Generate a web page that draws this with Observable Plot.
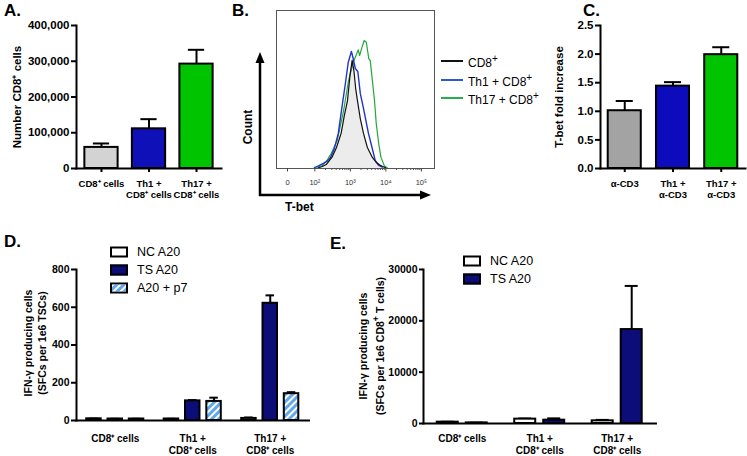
<!DOCTYPE html>
<html><head><meta charset="utf-8">
<script src="https://cdn.jsdelivr.net/npm/d3@7"></script>
<script src="https://cdn.jsdelivr.net/npm/@observablehq/plot@0.6"></script>
<style>
body{margin:0;background:#fff;}
#fig{position:relative;width:747px;height:456px;overflow:hidden;background:#fff;font-family:"Liberation Sans",Arial,Helvetica,sans-serif;color:#000;}
.letter{position:absolute;font-weight:bold;font-size:17px;line-height:17px;}
.leg{position:absolute;white-space:nowrap;line-height:1;transform:translateY(-50%);}
.sw{position:absolute;box-sizing:border-box;border:2px solid #000;width:18px;height:11px;transform:translateY(-50%);}
.ln{position:absolute;height:2px;width:22px;transform:translateY(-50%);}
.rot{position:absolute;font-weight:bold;font-size:12px;white-space:nowrap;text-align:center;transform:translate(-50%,-50%) rotate(-90deg);}
</style></head>
<body>
<svg width="0" height="0" style="position:absolute">
 <defs>
  <pattern id="hatch" patternUnits="userSpaceOnUse" width="5" height="5" patternTransform="rotate(45)">
   <rect width="5" height="5" fill="#62a8ec"/><rect width="2" height="5" fill="#ffffff"/>
  </pattern>
 </defs>
</svg>
<div id="fig"></div>
<script>
// ---------------- DATA ----------------
// Panel A
const aCategories = ["CD8⁺ cells", "Th1 +\nCD8⁺ cells", "Th17 +\nCD8⁺ cells"];
const aValues = [59000, 111000, 292000];
const aErrors = [11000, 27000, 40000];
const aTicks = [0, 100000, 200000, 300000, 400000];

// Panel B (histogram: x in log10 decades of T-bet, y in % of max count)
const bCd8X  = [2.10, 2.21, 2.32, 2.48, 2.61, 2.74, 2.83, 2.92, 2.99, 3.05, 3.10, 3.15, 3.20, 3.28, 3.37, 3.48, 3.62, 3.73, 3.85, 3.99];
const bCd8Y  = [0.5, 1.3, 2.5, 7.0, 13.3, 22.2, 33.5, 43.0, 58.9, 68.4, 62.0, 50.6, 43.0, 31.6, 22.2, 13.3, 7.0, 3.8, 1.9, 0.5];
const bTh1X  = [1.99, 2.10, 2.24, 2.35, 2.44, 2.55, 2.66, 2.79, 2.86, 2.94, 3.03, 3.08, 3.14, 3.21, 3.28, 3.37, 3.42, 3.51, 3.61, 3.70, 3.79, 3.90];
const bTh1Y  = [0.5, 1.6, 3.2, 4.7, 7.0, 12.7, 22.2, 43.0, 53.8, 67.1, 74.1, 69.6, 63.3, 61.4, 47.5, 38.0, 32.3, 22.2, 13.3, 5.1, 2.2, 0.9];
const bTh17X = [2.06, 2.21, 2.34, 2.46, 2.63, 2.81, 2.95, 3.08, 3.14, 3.22, 3.26, 3.33, 3.39, 3.45, 3.52, 3.56, 3.61, 3.68, 3.73, 3.80, 3.86, 3.96, 4.04];
const bTh17Y = [0.8, 1.9, 5.1, 9.5, 17.7, 36.7, 55.7, 67.3, 70.4, 75.1, 71.5, 76.8, 81.0, 79.9, 69.4, 68.4, 57.8, 43.0, 28.3, 15.6, 7.2, 1.5, 0.5];
const bTickPos = [1.23, 2, 3, 4, 5];
const bTickLabels = ["0", "10²", "10³", "10⁴", "10⁵"];
const bMinorMultipliers = [2, 3, 4, 5, 6, 7, 8, 9];
const bMinorDecades = [2, 3, 4];
const bLegend = ["CD8<sup>+</sup>", "Th1 + CD8<sup>+</sup>", "Th17 + CD8<sup>+</sup>"];

// Panel C
const cCategories = ["α-CD3", "Th1 +\nα-CD3", "Th17 +\nα-CD3"];
const cValues = [1.01, 1.44, 1.99];
const cErrors = [0.17, 0.07, 0.13];
const cTicks = [0, 0.5, 1.0, 1.5, 2.0, 2.5];

// Panel D
const dGroups = ["CD8⁺ cells", "Th1 +\nCD8⁺ cells", "Th17 +\nCD8⁺ cells"];
const dSeries = ["NC A20", "TS A20", "A20 + p7"];
const dNC = [9, 8, 11];      const dNCerr = [1, 1, 5];
const dTS = [8, 104, 621];   const dTSerr = [1, 4, 42];
const dP7 = [8, 101, 142];   const dP7err = [1, 20, 8];
const dTicks = [0, 200, 400, 600, 800];
const dYLabel = ["IFN-γ producing cells", "(SFCs per 1e6 TSCs)"];

// Panel E
const eGroups = ["CD8⁺ cells", "Th1 +\nCD8⁺ cells", "Th17 +\nCD8⁺ cells"];
const eSeries = ["NC A20", "TS A20"];
const eNC = [260, 850, 520];   const eNCerr = [80, 120, 180];
const eTS = [120, 650, 18300]; const eTSerr = [40, 350, 8500];
const eTicks = [0, 10000, 20000, 30000];
const eYLabel = ["IFN-γ producing cells", "(SFCs per 1e6 CD8<sup>+</sup> T cells)"];

// ---------------- HELPERS ----------------
const FONT = '"Liberation Sans", Arial, Helvetica, sans-serif';
const fig = document.getElementById("fig");
const baseStyle = {background: "none", overflow: "visible", fontFamily: FONT, fontWeight: "bold", fontSize: "11px", color: "#000"};
function place(el, left, top) {
  el.style.position = "absolute"; el.style.left = left + "px"; el.style.top = top + "px";
  el.style.maxWidth = "none";
  fig.appendChild(el);
}
function addDiv(cls, html, css) {
  const d = document.createElement("div"); d.className = cls; d.innerHTML = html;
  Object.assign(d.style, css); fig.appendChild(d); return d;
}

// ---------------- PANEL A ----------------
const aData = aCategories.map((c, i) => ({cat: c, value: aValues[i], err: aErrors[i]}));
place(Plot.plot({
  width: 240, height: 205, marginLeft: 76, marginRight: 19, marginTop: 25, marginBottom: 37,
  style: baseStyle,
  x: {domain: aCategories, padding: 0.3, paddingOuter: 0.176, align: 0.5, round: false},
  y: {domain: [0, 400000]},
  color: {domain: aCategories, range: ["#d3d3d3", "#1010b8", "#00c400"]},
  marks: [
    Plot.ruleX(aData, {x: "cat", y1: "value", y2: d => d.value + d.err, strokeWidth: 2}),
    Plot.tickY(aData, {x: "cat", y: d => d.value + d.err, strokeWidth: 2, insetLeft: 8.5, insetRight: 8.5}),
    Plot.barY(aData, {x: "cat", y: "value", fill: "cat", stroke: "black", strokeWidth: 2}),
    Plot.axisY({ticks: aTicks, tickFormat: d3.format(","), tickSize: 5, tickPadding: 2, strokeWidth: 2, fontSize: 11.5,
      label: "Number CD8⁺ cells", labelAnchor: "center", labelOffset: 64, labelArrow: "none"}),
    Plot.axisX({tickSize: 4, tickPadding: 6, strokeWidth: 2, fontSize: 9.5, lineHeight: 1.2, label: null}),
    Plot.frame({anchor: "left", strokeWidth: 2}),
    Plot.frame({anchor: "bottom", strokeWidth: 2})
  ]
}), 0, 0);

// ---------------- PANEL B ----------------
const bCd8 = bCd8X.map((x, i) => ({x, y: bCd8Y[i]}));
const bTh1 = bTh1X.map((x, i) => ({x, y: bTh1Y[i]}));
const bTh17 = bTh17X.map((x, i) => ({x, y: bTh17Y[i]}));
const bMinor = bMinorDecades.flatMap(k => bMinorMultipliers.map(m => k + Math.log10(m)));
place(Plot.plot({
  width: 170, height: 205, marginLeft: 6, marginRight: 6, marginTop: 10, marginBottom: 37,
  style: baseStyle,
  x: {domain: [0.92, 5.37]},
  y: {domain: [0, 100], axis: null},
  marks: [
    Plot.areaY(bCd8, {x: "x", y: "y", fill: "#ececec"}),
    Plot.lineY(bTh17, {x: "x", y: "y", stroke: "#1fa83a", strokeWidth: 1.2}),
    Plot.lineY(bTh1, {x: "x", y: "y", stroke: "#2233cc", strokeWidth: 1.4}),
    Plot.lineY(bCd8, {x: "x", y: "y", stroke: "#111", strokeWidth: 1.2}),
    Plot.frame({stroke: "#555", strokeWidth: 1}),
    Plot.axisX({ticks: bMinor, tickSize: 2, text: null, stroke: "#555", label: null}),
    Plot.axisX({ticks: bTickPos, tickFormat: d => bTickLabels[bTickPos.indexOf(d)], tickSize: 3.5, tickPadding: 7.5,
      fontSize: 7.5, fontWeight: "normal", stroke: "#444", fill: "#333", label: null})
  ]
}), 270, 0);

// axis arrows for B
const arrows = document.createElementNS("http://www.w3.org/2000/svg", "svg");
arrows.setAttribute("width", 747); arrows.setAttribute("height", 456);
arrows.style.position = "absolute"; arrows.style.left = "0"; arrows.style.top = "0"; arrows.style.pointerEvents = "none";
arrows.innerHTML = `
  <line x1="260" y1="196" x2="260" y2="62" stroke="#000" stroke-width="2.5"/>
  <polygon points="260,52 255.5,63 264.5,63" fill="#000"/>
  <line x1="259" y1="195" x2="421" y2="195" stroke="#000" stroke-width="2.5"/>
  <polygon points="431,195 420,190.5 420,199.5" fill="#000"/>`;
fig.appendChild(arrows);
addDiv("rot", "Count", {left: "248px", top: "127px"});
addDiv("leg", "T-bet", {left: "285px", top: "207px", fontWeight: "bold", fontSize: "12px"});
const bColors = ["#111", "#2a5bd7", "#27b04a"];
const bRows = [61, 80, 98];
bLegend.forEach((t, i) => {
  addDiv("ln", "", {left: "441px", top: bRows[i] + "px", background: bColors[i]});
  addDiv("leg", t, {left: "468px", top: bRows[i] + "px", fontSize: "12px"});
});

// ---------------- PANEL C ----------------
const cData = cCategories.map((c, i) => ({cat: c, value: cValues[i], err: cErrors[i]}));
place(Plot.plot({
  width: 267, height: 205, marginLeft: 120, marginRight: 2, marginTop: 25, marginBottom: 37,
  style: baseStyle,
  x: {domain: cCategories, padding: 0.315, paddingOuter: 0.16, align: 0.5, round: false},
  y: {domain: [0, 2.5]},
  color: {domain: cCategories, range: ["#a3a3a3", "#0c0cbc", "#00c400"]},
  marks: [
    Plot.ruleX(cData, {x: "cat", y1: "value", y2: d => d.value + d.err, strokeWidth: 2}),
    Plot.tickY(cData, {x: "cat", y: d => d.value + d.err, strokeWidth: 2, insetLeft: 8, insetRight: 8}),
    Plot.barY(cData, {x: "cat", y: "value", fill: "cat", stroke: "black", strokeWidth: 2}),
    Plot.axisY({ticks: cTicks, tickFormat: d3.format(".1f"), tickSize: 5, tickPadding: 2, strokeWidth: 2, fontSize: 11.5,
      label: "T-bet fold increase", labelAnchor: "center", labelOffset: 46, labelArrow: "none"}),
    Plot.axisX({tickSize: 4, tickPadding: 6, strokeWidth: 2, fontSize: 9.5, lineHeight: 1.2, label: null}),
    Plot.frame({anchor: "left", strokeWidth: 2}),
    Plot.frame({anchor: "bottom", strokeWidth: 2})
  ]
}), 480, 0);

// ---------------- PANEL D ----------------
const dVals = [dNC, dTS, dP7], dErrs = [dNCerr, dTSerr, dP7err];
const dData = [];
dGroups.forEach((g, gi) => dSeries.forEach((s, si) =>
  dData.push({group: g, series: s, value: dVals[si][gi], err: dErrs[si][gi]})));
place(Plot.plot({
  width: 345, height: 226, marginLeft: 76, marginRight: 10, marginTop: 39, marginBottom: 36,
  style: baseStyle,
  fx: {domain: dGroups, padding: 0, paddingOuter: 0.171, align: 0, round: false},
  x: {domain: dSeries, padding: 0.32, paddingOuter: 0.479, align: 0.5, round: false, axis: null},
  y: {domain: [0, 800]},
  color: {domain: dSeries, range: ["#ffffff", "#0d0d7a", "url(#hatch)"]},
  marks: [
    Plot.ruleX(dData, {fx: "group", x: "series", y1: "value", y2: d => d.value + d.err, strokeWidth: 2}),
    Plot.tickY(dData, {fx: "group", x: "series", y: d => d.value + d.err, strokeWidth: 2, insetLeft: 3, insetRight: 3}),
    Plot.barY(dData, {fx: "group", x: "series", y: "value", fill: "series", stroke: "black", strokeWidth: 2}),
    Plot.axisY({ticks: dTicks, tickSize: 5, tickPadding: 2, strokeWidth: 2, fontSize: 10.5, label: null}),
    Plot.axisFx({anchor: "bottom", tickSize: 0, tickPadding: 14, fontSize: 10, lineHeight: 1.12, label: null}),
    Plot.frame({anchor: "left", strokeWidth: 2, facet: "super"}),
    Plot.frame({anchor: "bottom", strokeWidth: 2, facet: "super"})
  ]
}), 0, 230);
addDiv("rot", dYLabel.join("<br>"), {left: "35px", top: "343px", fontSize: "10.5px", lineHeight: "14px"});

const dRows = [252, 270, 288];
const dFills = ["#ffffff", "#0d0d7a", null];
dSeries.forEach((s, i) => {
  const sw = addDiv("sw", "", {left: "110px", top: dRows[i] + "px", background: dFills[i] || "transparent"});
  if (!dFills[i]) {
    sw.innerHTML = '<svg width="14" height="7" style="display:block"><rect width="14" height="7" fill="url(#hatch)"/></svg>';
  }
  addDiv("leg", s, {left: "137px", top: dRows[i] + "px", fontSize: "12.5px"});
});

// ---------------- PANEL E ----------------
const eVals = [eNC, eTS], eErrs = [eNCerr, eTSerr];
const eData = [];
eGroups.forEach((g, gi) => eSeries.forEach((s, si) =>
  eData.push({group: g, series: s, value: eVals[si][gi], err: eErrs[si][gi]})));
place(Plot.plot({
  width: 330, height: 226, marginLeft: 83, marginRight: 13, marginTop: 39, marginBottom: 33,
  style: baseStyle,
  fx: {domain: eGroups, padding: 0, paddingOuter: 0.01, align: 0, round: false},
  x: {domain: eSeries, padding: 0.276, paddingOuter: 0.474, align: 0.5, round: false, axis: null},
  y: {domain: [0, 30000]},
  color: {domain: eSeries, range: ["#ffffff", "#0d0d7a"]},
  marks: [
    Plot.ruleX(eData, {fx: "group", x: "series", y1: "value", y2: d => d.value + d.err, strokeWidth: 2}),
    Plot.tickY(eData, {fx: "group", x: "series", y: d => d.value + d.err, strokeWidth: 2, insetLeft: 4, insetRight: 4}),
    Plot.barY(eData, {fx: "group", x: "series", y: "value", fill: "series", stroke: "black", strokeWidth: 2}),
    Plot.axisY({ticks: eTicks, tickFormat: d3.format("d"), tickSize: 4, tickPadding: 2, strokeWidth: 2, fontSize: 10.5, label: null}),
    Plot.axisFx({anchor: "bottom", tickSize: 0, tickPadding: 11, fontSize: 10, lineHeight: 1.12, label: null}),
    Plot.frame({anchor: "left", strokeWidth: 2, facet: "super"}),
    Plot.frame({anchor: "bottom", strokeWidth: 2, facet: "super"})
  ]
}), 340, 230);
addDiv("rot", eYLabel.join("<br>"), {left: "372px", top: "346px", fontSize: "10.5px", lineHeight: "13px"});

const eRows = [260.5, 278.5];
const eFills = ["#ffffff", "#0d0d7a"];
eSeries.forEach((s, i) => {
  addDiv("sw", "", {left: "463px", top: eRows[i] + "px", background: eFills[i]});
  addDiv("leg", s, {left: "490px", top: eRows[i] + "px", fontSize: "12.5px"});
});

// ---------------- PANEL LETTERS ----------------
addDiv("letter", "A.", {left: "4px", top: "2px"});
addDiv("letter", "B.", {left: "232px", top: "2px"});
addDiv("letter", "C.", {left: "583px", top: "2px"});
addDiv("letter", "D.", {left: "4px", top: "233px"});
addDiv("letter", "E.", {left: "330px", top: "235px"});
</script>
</body></html>
